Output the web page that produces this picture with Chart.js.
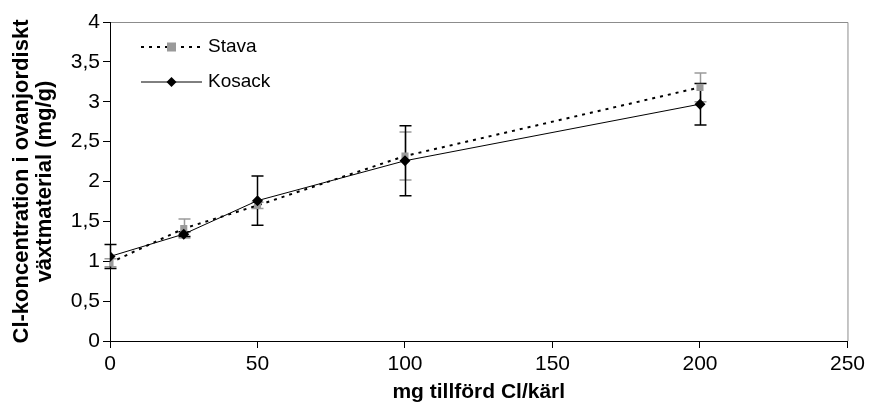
<!DOCTYPE html>
<html>
<head>
<meta charset="utf-8">
<script src="https://cdn.jsdelivr.net/npm/chart.js@4.4.1/dist/chart.umd.min.js"></script>
<style>
  html, body { margin: 0; padding: 0; background: #fff; }
  #wrap { width: 869px; height: 407px; }
</style>
</head>
<body>
<div id="wrap"><canvas id="chart" width="869" height="407"></canvas></div>
<script>
// data
const doses = [0, 25, 50, 100, 200];
const stavaValues = [0.98, 1.41, 1.70, 2.32, 3.18];
const stavaErrors = [0.05, 0.12, 0.04, 0.30, 0.18];
const kosackValues = [1.06, 1.34, 1.76, 2.26, 2.97];
const kosackErrors = [0.15, 0.03, 0.31, 0.44, 0.26];
const seriesNames = ['Stava', 'Kosack'];
const xTitle = 'mg tillförd Cl/kärl';
const yTitle = ['Cl-koncentration i ovanjordiskt', 'växtmaterial (mg/g)'];

const FONT = 'Arial, "Liberation Sans", sans-serif';

function toPoints(vals) {
    return doses.map((d, i) => ({ x: d, y: vals[i] }));
}

// error bars, drawn behind the markers
const errorBars = {
    id: 'errorBars',
    beforeDatasetsDraw(chart) {
        const ctx = chart.ctx;
        const xs = chart.scales.x, ys = chart.scales.y;
        const sets = [
            { vals: stavaValues, errs: stavaErrors, color: '#9a9a9a' },
            { vals: kosackValues, errs: kosackErrors, color: '#000000' }
        ];
        ctx.save();
        sets.forEach(s => {
            ctx.strokeStyle = s.color;
            ctx.lineWidth = 1.5;
            doses.forEach((d, i) => {
                const px = Math.round(xs.getPixelForValue(d)) + 0.5;
                const top = ys.getPixelForValue(s.vals[i] + s.errs[i]);
                const bot = ys.getPixelForValue(s.vals[i] - s.errs[i]);
                ctx.beginPath();
                ctx.moveTo(px, top); ctx.lineTo(px, bot);
                ctx.moveTo(px - 6, top); ctx.lineTo(px + 6, top);
                ctx.moveTo(px - 6, bot); ctx.lineTo(px + 6, bot);
                ctx.stroke();
            });
        });
        ctx.restore();
    }
};

// gray frame on top and right, plus legend inside the plot
const frameAndLegend = {
    id: 'frameAndLegend',
    beforeDraw(chart) {
        const { ctx, chartArea: a } = chart;
        ctx.save();
        ctx.strokeStyle = '#8c8c8c';
        ctx.lineWidth = 1;
        ctx.beginPath();
        ctx.moveTo(a.left, a.top + 0.5);
        ctx.lineTo(a.right + 0.5, a.top + 0.5);
        ctx.lineTo(a.right + 0.5, a.bottom);
        ctx.stroke();
        ctx.restore();
    },
    afterDraw(chart) {
        const ctx = chart.ctx;
        const a = chart.chartArea;
        const x0 = a.left + 31, x1 = a.left + 92;
        const rows = [a.top + 25, a.top + 60];
        ctx.save();
        ctx.font = '19px ' + FONT;
        ctx.textBaseline = 'middle';
        ctx.fillStyle = '#000';
        // Stava
        ctx.strokeStyle = '#000';
        ctx.lineWidth = 2;
        ctx.setLineDash([3, 5]);
        ctx.beginPath();
        ctx.moveTo(x0, rows[0]); ctx.lineTo(x1, rows[0]);
        ctx.stroke();
        ctx.setLineDash([]);
        ctx.fillStyle = '#9a9a9a';
        ctx.fillRect((x0 + x1) / 2 - 4.5, rows[0] - 4.5, 9, 9);
        ctx.fillStyle = '#000';
        ctx.fillText(seriesNames[0], x1 + 6, rows[0]);
        // Kosack
        ctx.lineWidth = 1;
        ctx.beginPath();
        ctx.moveTo(x0, rows[1]); ctx.lineTo(x1, rows[1]);
        ctx.stroke();
        const cx = (x0 + x1) / 2;
        ctx.beginPath();
        ctx.moveTo(cx, rows[1] - 5); ctx.lineTo(cx + 5, rows[1]);
        ctx.lineTo(cx, rows[1] + 5); ctx.lineTo(cx - 5, rows[1]);
        ctx.closePath();
        ctx.fill();
        ctx.fillText(seriesNames[1], x1 + 6, rows[1]);
        ctx.restore();
    }
};

const ctx = document.getElementById('chart').getContext('2d');
new Chart(ctx, {
    type: 'scatter',
    data: {
        datasets: [
            {
                label: seriesNames[1],
                data: toPoints(kosackValues),
                showLine: true,
                borderColor: '#000',
                borderWidth: 1,
                pointStyle: 'rectRot',
                pointRadius: 5.5,
                pointBackgroundColor: '#000',
                pointBorderColor: '#000',
                pointBorderWidth: 0,
                order: 1
            },
            {
                label: seriesNames[0],
                data: toPoints(stavaValues),
                showLine: true,
                borderColor: '#000',
                borderWidth: 2,
                borderDash: [3, 5],
                pointStyle: 'rect',
                pointRadius: 5,
                pointBackgroundColor: '#9a9a9a',
                pointBorderColor: '#9a9a9a',
                pointBorderWidth: 0,
                order: 2
            }
        ]
    },
    options: {
        responsive: false,
        animation: false,
        devicePixelRatio: 1,
        layout: { padding: { top: 22, right: 18, left: 0, bottom: 0 } },
        plugins: {
            legend: { display: false },
            tooltip: { enabled: false }
        },
        scales: {
            x: {
                type: 'linear',
                min: 0,
                max: 250,
                ticks: { stepSize: 50, color: '#000', font: { family: FONT, size: 21 }, padding: 4 },
                grid: { drawOnChartArea: false, tickLength: 7, color: '#000' },
                border: { color: '#000', width: 1 },
                title: {
                    display: true, text: xTitle, color: '#000',
                    font: { family: FONT, size: 21, weight: 'bold' },
                    padding: { top: 0, bottom: 2 }
                },
                afterFit(scale) { scale.height = 66; }
            },
            y: {
                min: 0,
                max: 4,
                ticks: {
                    stepSize: 0.5, color: '#000', padding: 3,
                    font: { family: FONT, size: 21 },
                    callback: v => String(v).replace('.', ',')
                },
                grid: { drawOnChartArea: false, tickLength: 7, color: '#000' },
                border: { color: '#000', width: 1 },
                title: {
                    display: true, text: yTitle, color: '#000',
                    font: { family: FONT, size: 22, weight: 'bold', lineHeight: 1.05 },
                    padding: { top: 10, bottom: 0 }
                },
                afterFit(scale) { scale.width = 110; }
            }
        }
    },
    plugins: [errorBars, frameAndLegend]
});
</script>
</body>
</html>
